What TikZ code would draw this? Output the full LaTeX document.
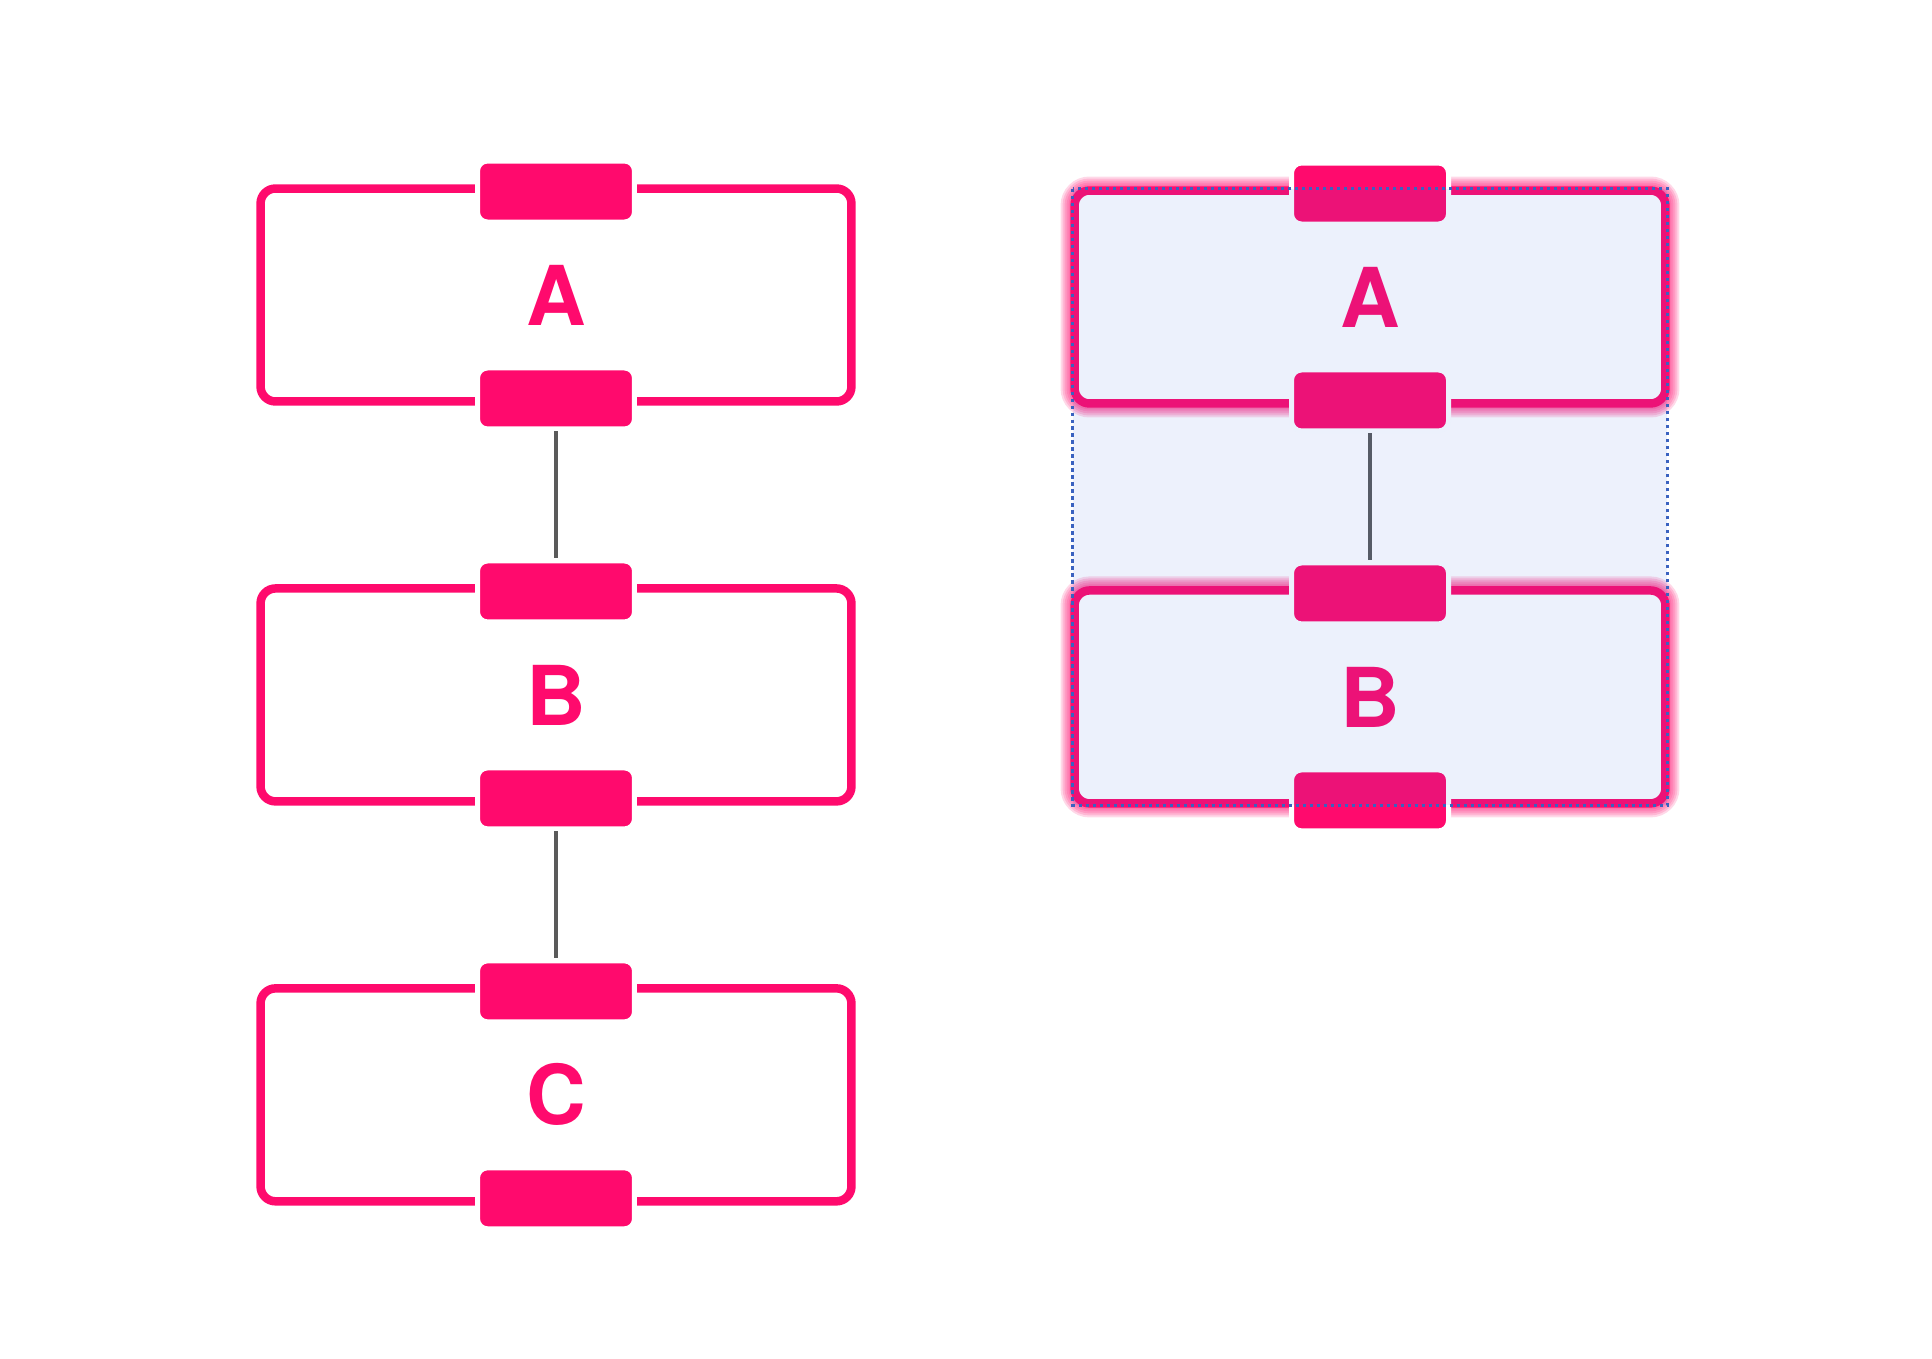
\documentclass[tikz,border=0pt]{standalone}
\usepackage{fontspec}
\setmainfont{TeX Gyre Heros}
\usetikzlibrary{positioning,backgrounds}
\definecolor{hotpink}{HTML}{FF0A6D}
\definecolor{wiregray}{HTML}{5A5A5A}
\definecolor{selblue}{HTML}{3366E0}
\definecolor{seldot}{HTML}{3A62C0}

\begin{document}
\begin{tikzpicture}[x=0.02cm,y=-0.02cm,
    block/.style={rectangle,draw=hotpink,fill=white,line width=0.17cm,rounded corners=0.3cm,
      minimum width=11.82cm,minimum height=4.26cm,outer sep=0pt,inner sep=0pt,
      text=hotpink,font=\fontsize{47}{50}\selectfont\bfseries},
    port/.style={rectangle,fill=hotpink,draw=white,line width=0.1cm,rounded corners=0.2cm,
      minimum width=3.14cm,minimum height=1.22cm,inner sep=0pt},
    wire/.style={draw=wiregray,line width=0.08cm},
    glow/.style={draw=hotpink,rounded corners=0.3cm,line width=#1,opacity=0.16}]
  \useasboundingbox (0,0) rectangle (1932,1358);

  % left chain
  \node[block] (a) at (556,295) {A};
  \node[block] (b) [below=3.74cm of a] {B};
  \node[block] (c) [below=3.74cm of b] {C};

  % right chain, selected
  \node[block] (ra) at (1370,297) {A};
  \node[block] (rb) [below=3.74cm of ra] {B};

  \begin{scope}[on background layer]
    \foreach \n in {ra,rb}
      \foreach \w in {0.24cm,0.32cm,0.40cm,0.48cm,0.56cm}
        \draw[glow=\w] (\n.north west) rectangle (\n.south east);
  \end{scope}

  \foreach \n in {a,b,c,ra,rb} {
    \node[port] (\n-in) at ([yshift=-0.06cm]\n.north) {};
    \node[port] (\n-out) at ([yshift=0.06cm]\n.south) {};
  }

  \path[wire]
    (a-out) edge (b-in)
    (b-out) edge (c-in)
    (ra-out) edge (rb-in);

  % selection frame
  \fill[selblue,opacity=0.09] ([shift={(-0.04cm,0.04cm)}]ra.north west) rectangle ([shift={(0.04cm,-0.04cm)}]rb.south east);
  \draw[seldot,line width=0.07cm,dash pattern=on 0.07cm off 0.07cm]
    ([shift={(-0.04cm,0.04cm)}]ra.north west) rectangle ([shift={(0.04cm,-0.04cm)}]rb.south east);
\end{tikzpicture}
\end{document}
